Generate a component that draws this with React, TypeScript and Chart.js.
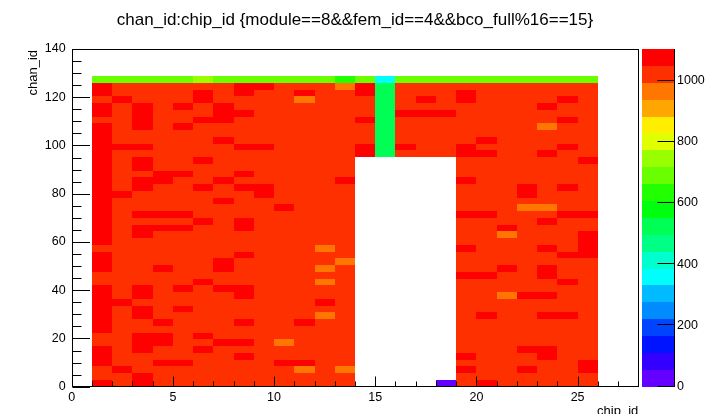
import React, { useEffect, useRef } from "react";
import { Chart, registerables } from "chart.js";

Chart.register(...registerables);

const FONT = "'Liberation Sans', Arial, Helvetica, sans-serif";
const TITLE = "chan_id:chip_id {module==8&&fem_id==4&&bco_full%16==15}";
const X_TITLE = "chip_id";
const Y_TITLE = "chan_id";

// x bins: chip_id lower edges (bin width 1)
const chipIds = [1, 2, 3, 4, 5, 6, 7, 8, 9, 10, 11, 12, 13, 14, 15, 16, 17, 18, 19, 20, 21, 22, 23, 24, 25];
// y bins: chan_id, 50 bins over 0..140
const CHAN_BIN_WIDTH = 2.8;
const X_RANGE = [0, 28];
const Y_RANGE = [0, 140];
const Z_RANGE = [0, 1103];
const N_CONTOURS = 20;
const xMajorTicks = [0, 5, 10, 15, 20, 25];
const yMajorTicks = [0, 20, 40, 60, 80, 100, 120, 140];
const zMajorTicks = [0, 200, 400, 600, 800, 1000];

// counts per chan bin, first row = top bin (126..128.8), last row = bottom bin (0..2.8); columns = chipIds
const counts: number[][] = [
  [690,690,690,690,690,745,690,690,690,690,690,690,635,690,360,690,690,690,690,690,690,690,690,690,690],
  [1075,1020,1020,1020,1020,1020,1020,1075,1075,1020,1020,1020,965,1075,520,1020,1020,1020,1020,1020,1020,1020,1020,1020,1020],
  [1075,1020,1020,1020,1020,1075,1020,1075,1020,1020,1075,1020,1020,1075,520,1020,1020,1020,1075,1020,1020,1020,1020,1020,1020],
  [1020,1075,1020,1020,1020,1075,1020,1020,1020,1020,965,1020,1020,1020,520,1020,1075,1020,1075,1020,1020,1020,1020,1075,1020],
  [1075,1020,1075,1020,1075,1020,1075,1020,1020,1020,1020,1020,1020,1020,520,1020,1020,1020,1020,1020,1020,1020,1075,1020,1020],
  [1075,1020,1075,1020,1020,1020,1075,1075,1020,1020,1020,1020,1020,1020,520,1075,1075,1075,1020,1020,1020,1020,1020,1020,1020],
  [1020,1020,1075,1020,1020,1075,1075,1020,1020,1020,1020,1020,1020,1075,520,1020,1020,1020,1020,1020,1020,1020,1020,1075,1020],
  [1075,1020,1075,1020,1075,1020,1020,1020,1020,1020,1020,1020,1020,1020,520,1020,1020,1020,1020,1020,1020,1020,965,1020,1020],
  [1075,1020,1020,1020,1020,1020,1020,1020,1020,1020,1020,1020,1020,1020,520,1020,1020,1020,1020,1020,1020,1020,1020,1020,1020],
  [1075,1020,1020,1020,1020,1020,1075,1020,1020,1020,1020,1020,1020,1020,520,1020,1020,1020,1020,1075,1020,1020,1020,1020,1020],
  [1075,1075,1075,1020,1020,1020,1020,1075,1075,1020,1020,1020,1020,1075,520,1075,1020,1020,1075,1020,1020,1020,1020,1075,1020],
  [1075,1020,1020,1020,1020,1020,1020,1020,1020,1020,1020,1020,1020,1075,520,1020,1020,1020,1075,1075,1020,1020,1075,1020,1020],
  [1075,1020,1075,1020,1020,1075,1020,1020,1020,1020,1020,1020,1020,0,0,0,0,0,1020,1020,1020,1020,1020,1020,1075],
  [1075,1020,1075,1020,1020,1020,1020,1020,1020,1020,1020,1020,1020,0,0,0,0,0,1020,1020,1020,1020,1020,1020,1020],
  [1075,1020,1020,1075,1075,1020,1020,1075,1020,1020,1020,1020,1020,0,0,0,0,0,1020,1020,1020,1020,1020,1020,1020],
  [1075,1020,1075,1075,1020,1020,1075,1020,1020,1020,1020,1020,1075,0,0,0,0,0,1075,1020,1020,1020,1020,1020,1020],
  [1075,1020,1075,1020,1020,1075,1020,1075,1075,1020,1020,1020,1020,0,0,0,0,0,1020,1020,1020,1075,1020,1075,1020],
  [1075,1075,1020,1020,1020,1020,1020,1020,1075,1020,1020,1020,1020,0,0,0,0,0,1020,1020,1020,1075,1020,1020,1020],
  [1075,1020,1020,1020,1020,1020,1075,1020,1020,1020,1020,1020,1020,0,0,0,0,0,1020,1020,1020,1020,1020,1020,1020],
  [1075,1020,1020,1020,1020,1020,1020,1020,1020,1075,1020,1020,1020,0,0,0,0,0,1020,1020,1020,965,965,1020,1020],
  [1075,1020,1075,1075,1075,1020,1020,1020,1020,1020,1020,1020,1020,0,0,0,0,0,1075,1075,1020,1020,1020,1075,1075],
  [1075,1020,1020,1020,1020,1075,1020,1075,1020,1020,1020,1020,1020,0,0,0,0,0,1020,1020,1020,1020,1075,1020,1020],
  [1075,1020,1075,1075,1075,1020,1020,1075,1020,1020,1020,1020,1020,0,0,0,0,0,1020,1020,1075,1020,1020,1020,1020],
  [1075,1020,1075,1020,1020,1020,1020,1020,1020,1020,1020,1020,1020,0,0,0,0,0,1020,1020,965,1020,1020,1020,1075],
  [1075,1020,1020,1020,1020,1020,1020,1020,1020,1020,1020,1020,1020,0,0,0,0,0,1020,1020,1020,1020,1020,1020,1075],
  [1020,1020,1020,1020,1020,1020,1020,1020,1020,1020,1020,965,1020,0,0,0,0,0,1075,1020,1020,1020,1075,1020,1075],
  [1075,1020,1020,1020,1020,1020,1020,1075,1020,1020,1020,1020,1020,0,0,0,0,0,1020,1020,1020,1020,1020,1075,1075],
  [1075,1020,1020,1020,1020,1020,1075,1020,1020,1020,1020,1020,965,0,0,0,0,0,1020,1020,1020,1020,1020,1020,1020],
  [1075,1020,1020,1075,1020,1020,1075,1020,1020,1020,1020,965,1020,0,0,0,0,0,1020,1020,1075,1020,1075,1020,1020],
  [1020,1020,1020,1020,1020,1020,1020,1020,1020,1020,1020,1020,1020,0,0,0,0,0,1075,1075,1020,1020,1075,1020,1020],
  [1020,1020,1020,1020,1020,1075,1020,1020,1020,1020,1020,965,1020,0,0,0,0,0,1020,1020,1020,1020,1020,1075,1020],
  [1075,1020,1075,1020,1075,1020,1075,1075,1020,1020,1020,1020,1020,0,0,0,0,0,1020,1020,1020,1020,1020,1020,1020],
  [1075,1020,1075,1020,1020,1020,1020,1075,1020,1020,1020,1020,1020,0,0,0,0,0,1020,1020,965,1075,1075,1020,1020],
  [1075,1075,1020,1020,1020,1020,1020,1020,1020,1020,1020,1075,1020,0,0,0,0,0,1020,1020,1020,1020,1020,1020,1020],
  [1075,1020,1075,1020,1075,1020,1020,1020,1020,1020,1020,1020,1020,0,0,0,0,0,1020,1020,1020,1020,1020,1020,1020],
  [1075,1020,1075,1020,1020,1020,1020,1020,1020,1020,1020,965,1020,0,0,0,0,0,1020,1075,1020,1020,1075,1075,1020],
  [1075,1020,1020,1075,1020,1020,1020,1075,1020,1020,1075,1020,1020,0,0,0,0,0,1020,1020,1020,1020,1020,1020,1020],
  [1075,1020,1020,1020,1020,1020,1020,1020,1020,1020,1020,1020,1020,0,0,0,0,0,1020,1020,1020,1020,1020,1020,1020],
  [1020,1020,1075,1075,1020,1075,1020,1020,1020,1020,1020,1020,1020,0,0,0,0,0,1020,1020,1020,1020,1020,1020,1020],
  [1020,1020,1075,1075,1020,1020,1075,1075,1020,965,1020,1020,1020,0,0,0,0,0,1020,1020,1020,1020,1020,1020,1020],
  [1075,1020,1075,1020,1020,1075,1020,1020,1020,1020,1020,1020,1020,0,0,0,0,0,1020,1020,1020,1075,1075,1020,1020],
  [1075,1020,1020,1020,1020,1020,1020,1075,1020,1020,1020,1020,1020,0,0,0,0,0,1075,1020,1020,1020,1075,1020,1020],
  [1075,1020,1020,1075,1075,1020,1020,1020,1020,1075,1075,1020,1020,0,0,0,0,0,1020,1020,1020,1020,1020,1020,1075],
  [1020,1075,1020,1020,1020,1020,1020,1020,1020,1020,965,1020,965,0,0,0,0,0,1075,1020,1020,1075,1020,1020,1075],
  [1020,1020,1075,1020,1020,1020,1020,1020,1020,1020,1020,1020,1020,0,0,0,0,0,1020,1020,1020,1020,1020,1020,1020],
  [1075,1020,1075,1020,1020,1020,1020,1020,1020,1020,1020,1020,1020,0,0,0,0,30,1020,1075,1020,1020,1020,1020,1020],
];

// ROOT "pretty palette" (violet -> red, 50 colours), picked per contour
function paletteColor(contour: number): string {
  const idx = Math.floor(((contour + 0.99) * 50) / N_CONTOURS);
  const hue = 280 - (idx + 1) * 5.6;
  const f = (h: number) => {
    let hh = h;
    if (hh > 360) hh -= 360;
    if (hh < 0) hh += 360;
    if (hh < 60) return hh / 60;
    if (hh < 180) return 1;
    if (hh < 240) return (240 - hh) / 60;
    return 0;
  };
  const r = Math.round(f(hue + 120) * 255);
  const g = Math.round(f(hue) * 255);
  const b = Math.round(f(hue - 120) * 255);
  return `rgb(${r},${g},${b})`;
}

function colorForValue(v: number): string {
  const step = (Z_RANGE[1] - Z_RANGE[0]) / N_CONTOURS;
  const j = Math.max(0, Math.min(N_CONTOURS - 1, Math.floor((v - Z_RANGE[0]) / step)));
  return paletteColor(j);
}

const nRows = counts.length;
const cellPoints: { x: number; y: number; v: number }[] = [];
counts.forEach((row, i) => {
  const chanLow = (nRows - 1 - i) * CHAN_BIN_WIDTH;
  row.forEach((v, c) => {
    if (v > 0) cellPoints.push({ x: chipIds[c], y: chanLow, v });
  });
});

const heatmapPlugin = {
  id: "rootColz",
  beforeDatasetsDraw(chart: any) {
    const { ctx, chartArea, scales } = chart;
    const xs = scales.x;
    const ys = scales.y;
    ctx.save();
    ctx.beginPath();
    ctx.rect(chartArea.left, chartArea.top, chartArea.right - chartArea.left, chartArea.bottom - chartArea.top);
    ctx.clip();
    for (const p of chart.data.datasets[0].data) {
      const x0 = Math.round(xs.getPixelForValue(p.x));
      const x1 = Math.round(xs.getPixelForValue(p.x + 1));
      const y0 = Math.round(ys.getPixelForValue(p.y + CHAN_BIN_WIDTH));
      const y1 = Math.round(ys.getPixelForValue(p.y));
      ctx.fillStyle = colorForValue(p.v);
      ctx.fillRect(x0, y0, x1 - x0, y1 - y0);
    }
    ctx.restore();
  },
  afterDatasetsDraw(chart: any) {
    const { ctx, chartArea, scales } = chart;
    const xs = scales.x;
    const ys = scales.y;
    const zs = scales.z;
    ctx.save();
    ctx.strokeStyle = "#000";
    ctx.lineWidth = 1;
    const L = Math.round(chartArea.left) + 0.5;
    const R = Math.round(chartArea.right) + 0.5;
    const T = Math.round(chartArea.top) + 0.5;
    const B = Math.round(chartArea.bottom) - 0.5;
    ctx.strokeRect(L, T, R - L, B - T);

    ctx.beginPath();
    for (let v = Y_RANGE[0]; v <= Y_RANGE[1]; v += 5) {
      const len = v % 20 === 0 ? 17.5 : 9;
      const py = Math.round(ys.getPixelForValue(v)) + 0.5;
      ctx.moveTo(L, py);
      ctx.lineTo(L + len, py);
    }
    for (let v = X_RANGE[0]; v <= X_RANGE[1]; v += 1) {
      const len = v % 5 === 0 ? 10 : 5;
      const px = Math.round(xs.getPixelForValue(v)) + 0.5;
      ctx.moveTo(px, B);
      ctx.lineTo(px, B - len);
    }
    ctx.stroke();

    // colour palette
    const cbL = chartArea.right + 3.4;
    const cbR = chartArea.right + 35.7;
    const step = (Z_RANGE[1] - Z_RANGE[0]) / N_CONTOURS;
    for (let j = 0; j < N_CONTOURS; j++) {
      const yTop = Math.round(zs.getPixelForValue(Z_RANGE[0] + (j + 1) * step));
      const yBot = Math.round(zs.getPixelForValue(Z_RANGE[0] + j * step));
      ctx.fillStyle = paletteColor(j);
      ctx.fillRect(Math.round(cbL), yTop, Math.round(cbR) - Math.round(cbL), yBot - yTop);
    }
    const ax = Math.round(cbR) + 0.5;
    ctx.beginPath();
    ctx.moveTo(ax, Math.round(zs.getPixelForValue(Z_RANGE[1])));
    ctx.lineTo(ax, Math.round(zs.getPixelForValue(Z_RANGE[0])));
    for (const v of zMajorTicks) {
      const py = Math.round(zs.getPixelForValue(v)) - 0.5;
      ctx.moveTo(ax, py);
      ctx.lineTo(ax - 17, py);
    }
    ctx.stroke();

    // title and axis titles
    ctx.fillStyle = "#000";
    ctx.textBaseline = "alphabetic";
    ctx.font = `17px ${FONT}`;
    ctx.textAlign = "center";
    ctx.fillText(TITLE, 355, 24.5);
    ctx.font = `13px ${FONT}`;
    ctx.textAlign = "right";
    ctx.fillText(X_TITLE, chartArea.right, 414.5);
    ctx.translate(37, chartArea.top + 1);
    ctx.rotate(-Math.PI / 2);
    ctx.fillText(Y_TITLE, 0, 0);
    ctx.restore();
  },
};

export default function App() {
  const ref = useRef<HTMLCanvasElement | null>(null);

  useEffect(() => {
    document.body.style.margin = "0";
    const canvas = ref.current;
    if (!canvas) return;
    const tickFont = { family: FONT, size: 12.5 };
    const plain = (v: any) => String(v);
    const chart = new Chart(canvas, {
      type: "scatter",
      data: {
        datasets: [
          {
            label: "chan_id:chip_id",
            data: cellPoints as any,
            pointRadius: 0,
            pointHoverRadius: 0,
            showLine: false,
          },
        ],
      },
      options: {
        responsive: false,
        animation: false,
        devicePixelRatio: 1,
        events: [],
        layout: { padding: { top: 49, left: 0, right: 0, bottom: 0 } },
        plugins: {
          legend: { display: false },
          tooltip: { enabled: false },
          title: { display: false },
        },
        scales: {
          x: {
            type: "linear",
            position: "bottom",
            min: X_RANGE[0],
            max: X_RANGE[1],
            grid: { display: false, drawTicks: false },
            border: { display: false },
            ticks: { color: "#000", font: tickFont, padding: 3.5, maxRotation: 0, autoSkip: false, callback: plain },
            afterBuildTicks: (s: any) => {
              s.ticks = xMajorTicks.map((v) => ({ value: v }));
            },
            afterFit: (s: any) => {
              s.height = 27.3;
            },
          },
          y: {
            type: "linear",
            position: "left",
            min: Y_RANGE[0],
            max: Y_RANGE[1],
            grid: { display: false, drawTicks: false },
            border: { display: false },
            ticks: { color: "#000", font: tickFont, padding: 6, autoSkip: false, callback: plain },
            afterBuildTicks: (s: any) => {
              s.ticks = yMajorTicks.map((v) => ({ value: v }));
            },
            afterFit: (s: any) => {
              s.width = 71.7;
            },
          },
          z: {
            type: "linear",
            axis: "y",
            position: "right",
            min: Z_RANGE[0],
            max: Z_RANGE[1],
            grid: { display: true, drawOnChartArea: false, drawTicks: true, tickLength: 36, color: "rgba(0,0,0,0)" },
            border: { display: false },
            ticks: { color: "#000", font: tickFont, padding: 2.7, autoSkip: false, callback: plain },
            afterBuildTicks: (s: any) => {
              s.ticks = zMajorTicks.map((v) => ({ value: v }));
            },
            afterFit: (s: any) => {
              s.width = 66.7;
            },
          } as any,
        },
      },
      plugins: [heatmapPlugin],
    });
    return () => chart.destroy();
  }, []);

  return (
    <div style={{ width: 705, height: 414, background: "#fff" }}>
      <canvas ref={ref} width={705} height={414} style={{ display: "block", width: 705, height: 414 }} />
    </div>
  );
}
